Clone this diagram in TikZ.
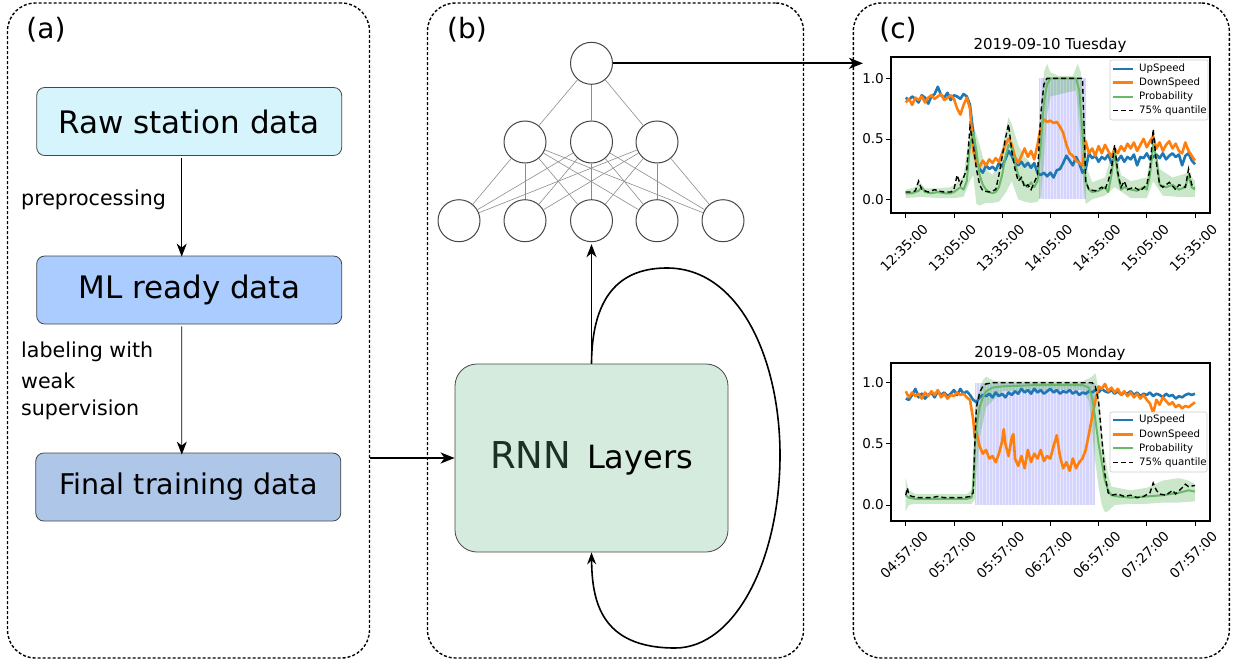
\documentclass[tikz,border=0pt]{standalone}
\usepackage{fontspec}
\setmainfont{DejaVu Sans}
\usetikzlibrary{arrows.meta}
\definecolor{rawc}{RGB}{214,244,252}
\definecolor{mlc}{RGB}{170,204,255}
\definecolor{finc}{RGB}{174,198,232}
\definecolor{rnnc}{RGB}{212,235,222}
\definecolor{rnnt}{RGB}{28,48,36}
\definecolor{boxd}{RGB}{70,70,70}
\definecolor{mblue}{RGB}{31,119,180}
\definecolor{morange}{RGB}{255,127,14}
\definecolor{mgreen}{RGB}{44,160,44}
\definecolor{pgreen}{RGB}{105,185,105}
\definecolor{mpurp}{RGB}{212,212,252}
\definecolor{edgec}{RGB}{140,140,140}
\definecolor{legb}{RGB}{204,204,204}
\newcommand{\myfs}[1]{\fontsize{#1}{#1}\selectfont}
\begin{document}
\begin{tikzpicture}[x=1pt,y=-1pt,
  panel/.style={draw, line width=1.4pt, dash pattern=on 3pt off 2pt, rounded corners=28pt, inner sep=0pt},
  databox/.style={draw=boxd, line width=0.8pt, rounded corners=8pt, minimum width=305pt, minimum height=68pt, inner sep=0pt, font=\myfs{31}},
  arr/.style={-{Stealth[length=13pt,width=10pt,inset=4pt]}, line width=0.9pt},
  thickarr/.style={-{Stealth[length=14pt,width=11pt,inset=4pt]}, line width=2pt},
  looparr/.style={-{Stealth[length=12pt,width=9pt,inset=4pt]}, line width=1.6pt},
  neuron/.style={circle, draw=boxd, line width=1pt, minimum size=42pt, inner sep=0pt, fill=white},
  nnedge/.style={draw=edgec, line width=0.6pt},
  steplabel/.style={anchor=west, font=\myfs{20.6}, inner sep=0pt},
  panlab/.style={font=\myfs{28}, inner sep=0pt},
  frame/.style={line width=2pt},
  ticklab/.style={font=\myfs{13.5}, inner sep=0pt},
  ylab/.style={font=\myfs{13.5}, inner sep=0pt, anchor=east},
  ttl/.style={font=\myfs{15}, inner sep=0pt},
  legt/.style={anchor=west, font=\myfs{10.2}, inner sep=0pt},
  legbox/.style={draw=legb, fill=white, fill opacity=0.8, line width=0.6pt, rounded corners=2pt},
  upl/.style={mblue, line width=2.6pt, line join=round},
  downl/.style={morange, line width=2.6pt, line join=round},
  probl/.style={pgreen, line width=2pt, line join=round},
  qline/.style={black, line width=1.4pt, dash pattern=on 5pt off 3pt},
  band/.style={fill=mgreen, fill opacity=0.25},
  region/.style={fill=mpurp},
  stripe/.style={white, opacity=0.45, line width=0.8pt}
]
\useasboundingbox (0,0) rectangle (1233,661);

% panels
\node[panel, minimum width=362pt, minimum height=655pt] (pa) at (188.5,330.5) {};
\node[panel, minimum width=376pt, minimum height=655pt] (pb) at (615.5,330.5) {};
\node[panel, minimum width=376pt, minimum height=655pt] (pc) at (1041.3,330.5) {};
\node[panlab] (la) at (46,30) {(a)};
\node[panlab] (lb) at (467,30) {(b)};
\node[panlab] (lc) at (898,30) {(c)};

% panel (a)
\node[databox, fill=rawc] (raw) at (189.2,121.5) {Raw station data};
\node[databox, fill=mlc] (ml) at (189.2,290) {ML ready data};
\node[databox, fill=finc, font=\myfs{28.5}] (fin) at (188.3,487) {Final training data};
\draw[arr] ([xshift=-7.5pt,yshift=-2pt]raw.south) -- ([xshift=-7.5pt,yshift=-1pt]ml.north);
\draw[arr] ([xshift=-7.5pt,yshift=-2pt]ml.south) -- ([xshift=-6.5pt,yshift=-2pt]fin.north);
\node[steplabel] (pre) at (21,200) {preprocessing};
\node[steplabel] (lab1) at (21,352) {labeling with};
\node[steplabel] (lab2) at (21,381) {weak};
\node[steplabel] (lab3) at (21,410) {supervision};

% panel (b)
\node[draw=boxd, fill=rnnc, line width=0.8pt, rounded corners=22pt, minimum width=273pt, minimum height=188pt, inner sep=0pt] (rnn) at (591.5,458)
  {{\color{rnnt}\myfs{37}RNN}\hspace{16pt}{\myfs{32}Layers}};
\draw[thickarr] (rnn.west -| pa.east) -- (rnn.west);

\node[neuron] (o) at (591.5,63.3) {};
\node[neuron] (h1) at (525,142) {};
\node[neuron] (h2) at (591.5,142) {};
\node[neuron] (h3) at (657,142) {};
\node[neuron] (i1) at (459,220.7) {};
\node[neuron] (i2) at (525,220.7) {};
\node[neuron] (i3) at (591.5,220.7) {};
\node[neuron] (i4) at (657,220.7) {};
\node[neuron] (i5) at (723,220.7) {};
\foreach \h in {h1,h2,h3} \draw[nnedge] (o) -- (\h);
\foreach \h in {h1,h2,h3} \foreach \i in {i1,i2,i3,i4,i5} \draw[nnedge] (\h) -- (\i);
\draw[arr, line width=1.6pt] (rnn.north) -- ([yshift=-2pt]i3.south);
\draw[looparr] (rnn.north) .. controls (592,290) and (625,268) .. (667,268)
  .. controls (740,268) and (780,360) .. (780,455)
  .. controls (780,560) and (735,648) .. (675,648)
  .. controls (600,648) and (592,600) .. (rnn.south);
\coordinate (tgt) at (863,63.3);
\draw[thickarr] (o.east) -- (tgt);

% ---------- plot 1 ----------
\node[ttl] (t1) at (1050,45) {2019-09-10 Tuesday};
\begin{scope}[shift={(905.7,199.3)}, x=1.607pt, y=121pt]
\fill[region] (83,0) rectangle (112,1);
\foreach \s in {84,86,...,111} \draw[stripe] (\s,0) -- (\s,1);
\fill[band] plot coordinates {(0,.08) (6,.10) (8,.15) (12,.09) (20,.09) (28,.10) (32,.14) (36,.20) (40,.58) (42,.62) (46,.45) (50,.25) (54,.20) (58,.30) (62,.55) (64,.68) (66,.62) (70,.45) (74,.35) (78,.30) (82,.28) (84,.70) (86,1.05) (88,1.12) (90,1.05) (95,1.02) (104,1.02) (107,1.12) (109,1.05) (111,.70) (113,.25) (116,.14) (124,.18) (130,.45) (134,.20) (140,.15) (150,.18) (154,.50) (158,.25) (166,.18) (176,.22) (180,.15)
 (180,.02) (170,.02) (160,.03) (154,.15) (150,.01) (140,.01) (130,.10) (124,.03) (116,.00) (112,-.04) (110,.20) (108,.60) (106,.90) (90,.85) (88,.70) (86,.30) (84,.02) (82,-.02) (78,-.03) (74,-.02) (70,0) (66,.15) (62,.05) (58,-.02) (54,-.03) (50,-.03) (46,-.05) (44,-.04) (42,.20) (40,.15) (36,.02) (30,.01) (20,.01) (10,.02) (0,.01)} -- cycle;
\draw[upl] plot coordinates {(0,.84) (2,.82) (4,.85) (6,.83) (8,.80) (10,.86) (12,.84) (14,.79) (16,.85) (18,.87) (20,.93) (22,.86) (24,.84) (26,.88) (28,.82) (30,.86) (32,.85) (34,.83) (36,.87) (38,.85) (40,.78) (42,.55) (44,.32) (46,.25) (48,.22) (50,.28) (52,.25) (54,.27) (56,.24) (58,.30) (60,.27) (62,.33) (64,.40) (66,.36) (68,.30) (70,.28) (72,.31) (74,.27) (76,.30) (78,.26) (80,.30) (82,.22) (84,.20) (86,.22) (88,.19) (90,.22) (92,.18) (94,.24) (96,.25) (98,.30) (100,.36) (102,.32) (104,.28) (106,.35) (108,.30) (110,.22) (112,.25) (114,.38) (116,.34) (118,.36) (120,.31) (122,.35) (124,.33) (126,.37) (128,.30) (130,.34) (132,.32) (134,.36) (136,.31) (138,.35) (140,.33) (142,.37) (144,.28) (146,.35) (148,.34) (150,.38) (152,.33) (154,.35) (156,.37) (158,.34) (160,.38) (162,.33) (164,.36) (166,.38) (168,.35) (170,.37) (172,.28) (174,.36) (176,.38) (178,.32) (180,.29)};
\draw[downl] plot coordinates {(0,.80) (2,.83) (4,.78) (6,.84) (8,.82) (10,.85) (12,.80) (14,.84) (16,.86) (18,.83) (20,.85) (22,.87) (24,.82) (26,.84) (28,.86) (30,.83) (32,.75) (34,.70) (36,.78) (38,.84) (40,.75) (42,.40) (44,.30) (46,.27) (48,.32) (50,.28) (52,.33) (54,.30) (56,.34) (58,.31) (60,.38) (62,.45) (64,.50) (66,.45) (68,.35) (70,.30) (72,.36) (74,.42) (76,.35) (78,.40) (80,.33) (82,.45) (84,.60) (86,.66) (88,.64) (90,.65) (92,.63) (94,.64) (96,.60) (98,.55) (100,.45) (102,.38) (104,.36) (106,.32) (108,.30) (110,.28) (112,.48) (114,.38) (116,.42) (118,.36) (120,.44) (122,.38) (124,.45) (126,.40) (128,.35) (130,.42) (132,.38) (134,.44) (136,.40) (138,.46) (140,.42) (142,.47) (144,.40) (146,.45) (148,.50) (150,.43) (152,.48) (154,.52) (156,.42) (158,.47) (160,.40) (162,.45) (164,.48) (166,.42) (168,.46) (170,.40) (172,.38) (174,.47) (176,.40) (178,.36) (180,.32)};
\draw[probl] plot coordinates {(0,.05) (4,.05) (8,.07) (10,.10) (12,.06) (16,.05) (20,.06) (24,.05) (28,.05) (30,.06) (34,.10) (36,.08) (38,.15) (40,.45) (42,.55) (44,.40) (46,.20) (48,.12) (50,.08) (52,.06) (54,.05) (56,.06) (58,.10) (60,.20) (62,.35) (64,.45) (66,.42) (68,.30) (70,.20) (72,.16) (74,.12) (76,.10) (78,.14) (80,.10) (82,.15) (84,.45) (86,.80) (88,.95) (90,1.0) (100,1.0) (106,1.0) (108,.90) (110,.55) (112,.15) (114,.08) (116,.06) (120,.07) (124,.10) (126,.06) (128,.20) (130,.40) (132,.20) (134,.08) (136,.10) (140,.08) (144,.07) (148,.10) (150,.08) (152,.20) (154,.45) (156,.35) (158,.12) (162,.10) (166,.12) (170,.08) (174,.10) (176,.20) (178,.10) (180,.08)};
\draw[qline] plot coordinates {(0,.06) (4,.06) (6,.07) (8,.15) (10,.08) (14,.06) (18,.08) (20,.07) (24,.06) (28,.06) (30,.08) (32,.20) (34,.12) (36,.18) (38,.25) (40,.60) (42,.45) (44,.25) (46,.12) (48,.07) (52,.06) (56,.08) (58,.20) (60,.35) (62,.50) (64,.62) (66,.40) (68,.25) (70,.15) (72,.18) (74,.10) (76,.12) (78,.08) (80,.14) (82,.20) (84,.70) (86,.95) (88,1.0) (110,1.0) (111,.60) (112,.15) (114,.08) (118,.07) (122,.10) (124,.08) (126,.15) (128,.25) (130,.45) (132,.22) (134,.10) (136,.15) (138,.08) (142,.10) (146,.07) (150,.12) (152,.25) (154,.58) (156,.30) (158,.12) (160,.10) (164,.14) (168,.08) (170,.12) (174,.10) (176,.25) (178,.12) (180,.10)};
\end{scope}
\draw[frame] (890.7,57.3) rectangle (1210,212.7);
\foreach \t/\lab in {0/12:35:00,30/13:05:00,60/13:35:00,90/14:05:00,120/14:35:00,150/15:05:00,180/15:35:00} {
  \draw[line width=0.8pt] ({905.7+1.607*\t},212.7) -- ({905.7+1.607*\t},217.5);
  \node[ticklab, rotate=45] at ({904+1.607*\t},248) {\lab};
}
\foreach \v/\lab in {78.3/1.0,139/0.5,199.3/0.0} {
  \draw[line width=0.8pt] (886,\v) -- (890.7,\v);
  \node[ylab] at (884,\v) {\lab};
}
\draw[legbox] (1110,60) rectangle (1208,120);
\draw[upl] (1113,69) -- (1133,69); \node[legt] at (1139,69) {UpSpeed};
\draw[downl] (1113,82.7) -- (1133,82.7); \node[legt] at (1139,82.7) {DownSpeed};
\draw[probl] (1113,96.7) -- (1133,96.7); \node[legt] at (1139,96.7) {Probability};
\draw[qline] (1113,110.7) -- (1133,110.7); \node[legt] at (1139,110.7) {75\% quantile};

% ---------- plot 2 ----------
\node[ttl] (t2) at (1050,353) {2019-08-05 Monday};
\begin{scope}[shift={(905.7,505)}, x=1.607pt, y=122.3pt]
\fill[region] (43,0) rectangle (118,1);
\foreach \s in {44,46,...,117} \draw[stripe] (\s,0) -- (\s,1);
\fill[band] plot coordinates {(0,.22) (2,.12) (6,.09) (20,.09) (38,.09) (41,.12) (43,.70) (44,.85) (46,.95) (48,1.02) (50,1.05) (54,1.02) (60,1.01) (110,1.01) (116,1.05) (118,1.08) (120,.95) (122,.60) (124,.40) (126,.25) (128,.15) (140,.12) (150,.14) (160,.20) (170,.22) (176,.20) (180,.17)
 (180,.03) (170,.02) (160,.02) (150,.01) (140,.01) (130,0) (126,-.05) (124,-.06) (122,0) (120,.15) (118,.35) (116,.60) (114,.85) (110,.94) (60,.93) (50,.80) (46,.55) (44,.25) (43,.05) (41,.01) (20,.01) (6,.01) (2,0) (0,-.05)} -- cycle;
\draw[upl] plot coordinates {(0,.87) (2,.86) (4,.90) (6,.95) (8,.88) (10,.91) (12,.87) (14,.90) (16,.92) (18,.88) (20,.93) (22,.90) (24,.92) (26,.89) (28,.91) (30,.94) (32,.90) (34,.95) (36,.91) (38,.93) (40,.90) (42,.86) (44,.84) (46,.88) (48,.90) (50,.89) (52,.91) (54,.88) (56,.92) (58,.89) (60,.91) (62,.88) (64,.92) (66,.90) (68,.93) (70,.91) (72,.95) (74,.92) (76,.94) (78,.91) (80,.95) (82,.92) (84,.94) (86,.91) (88,.93) (90,.95) (92,.92) (94,.94) (96,.91) (98,.93) (100,.92) (102,.94) (104,.91) (106,.93) (108,.90) (110,.92) (112,.91) (114,.93) (116,.92) (118,.94) (120,.92) (122,.95) (124,.93) (126,.92) (128,.94) (130,.91) (132,.93) (134,.90) (136,.92) (138,.91) (140,.93) (142,.90) (144,.92) (146,.89) (148,.91) (150,.90) (152,.92) (154,.89) (156,.91) (158,.90) (160,.88) (162,.91) (164,.89) (166,.90) (168,.87) (170,.89) (172,.88) (174,.90) (176,.91) (178,.90) (180,.91)};
\draw[downl] plot coordinates {(0,.93) (2,.88) (4,.92) (6,.89) (8,.91) (10,.87) (12,.92) (14,.89) (16,.93) (18,.90) (20,.94) (22,.88) (24,.91) (26,.87) (28,.90) (30,.89) (32,.92) (34,.90) (36,.91) (38,.88) (40,.86) (42,.70) (43,.55) (44,.60) (46,.48) (48,.42) (50,.45) (52,.38) (54,.40) (56,.35) (58,.42) (60,.52) (61,.62) (62,.50) (64,.40) (66,.55) (67,.58) (68,.38) (70,.32) (72,.40) (74,.30) (76,.45) (78,.35) (80,.42) (82,.38) (84,.45) (86,.36) (88,.40) (90,.38) (92,.48) (94,.57) (96,.40) (98,.30) (100,.35) (102,.28) (104,.38) (106,.30) (108,.35) (110,.38) (112,.45) (114,.58) (116,.72) (118,.85) (120,.97) (122,.95) (124,.99) (126,.93) (128,.96) (130,.92) (132,.95) (134,.90) (136,.93) (138,.89) (140,.92) (142,.88) (144,.91) (146,.87) (148,.90) (150,.86) (152,.83) (154,.75) (156,.86) (158,.82) (160,.88) (162,.85) (164,.82) (166,.84) (168,.80) (170,.82) (172,.79) (174,.81) (176,.80) (178,.82) (180,.84)};
\draw[probl] plot coordinates {(0,.08) (2,.06) (6,.05) (12,.05) (20,.05) (30,.05) (38,.05) (41,.06) (42,.15) (43,.45) (44,.65) (46,.80) (48,.88) (50,.93) (54,.96) (60,.97) (80,.98) (100,.98) (110,.98) (114,.96) (116,.88) (118,.70) (120,.50) (122,.35) (124,.20) (126,.12) (128,.08) (132,.07) (140,.06) (150,.07) (160,.08) (170,.10) (176,.12) (180,.11)};
\draw[qline] plot coordinates {(0,.08) (1,.14) (2,.08) (4,.07) (8,.06) (12,.06) (16,.06) (20,.07) (24,.06) (30,.06) (36,.06) (40,.07) (42,.10) (43,.50) (44,.80) (46,.92) (48,.97) (50,.99) (54,1.0) (116,1.0) (118,.97) (120,.85) (122,.55) (124,.25) (126,.10) (128,.08) (132,.09) (136,.07) (140,.08) (144,.06) (148,.07) (152,.10) (154,.18) (156,.12) (158,.09) (162,.08) (166,.12) (168,.09) (172,.14) (174,.17) (176,.15) (180,.16)};
\end{scope}
\draw[frame] (890.7,363.3) rectangle (1210,520.7);
\foreach \t/\lab in {0/04:57:00,30/05:27:00,60/05:57:00,90/06:27:00,120/06:57:00,150/07:27:00,180/07:57:00} {
  \draw[line width=0.8pt] ({905.7+1.607*\t},520.7) -- ({905.7+1.607*\t},525.5);
  \node[ticklab, rotate=45] at ({904+1.607*\t},555) {\lab};
}
\foreach \v/\lab in {382.7/1.0,443.7/0.5,505/0.0} {
  \draw[line width=0.8pt] (886,\v) -- (890.7,\v);
  \node[ylab] at (884,\v) {\lab};
}
\draw[legbox] (1110,412) rectangle (1207,472);
\draw[upl] (1113,420) -- (1133,420); \node[legt] at (1139,420) {UpSpeed};
\draw[downl] (1113,434.3) -- (1133,434.3); \node[legt] at (1139,434.3) {DownSpeed};
\draw[probl] (1113,448.3) -- (1133,448.3); \node[legt] at (1139,448.3) {Probability};
\draw[qline] (1113,462.3) -- (1133,462.3); \node[legt] at (1139,462.3) {75\% quantile};
\end{tikzpicture}
\end{document}
